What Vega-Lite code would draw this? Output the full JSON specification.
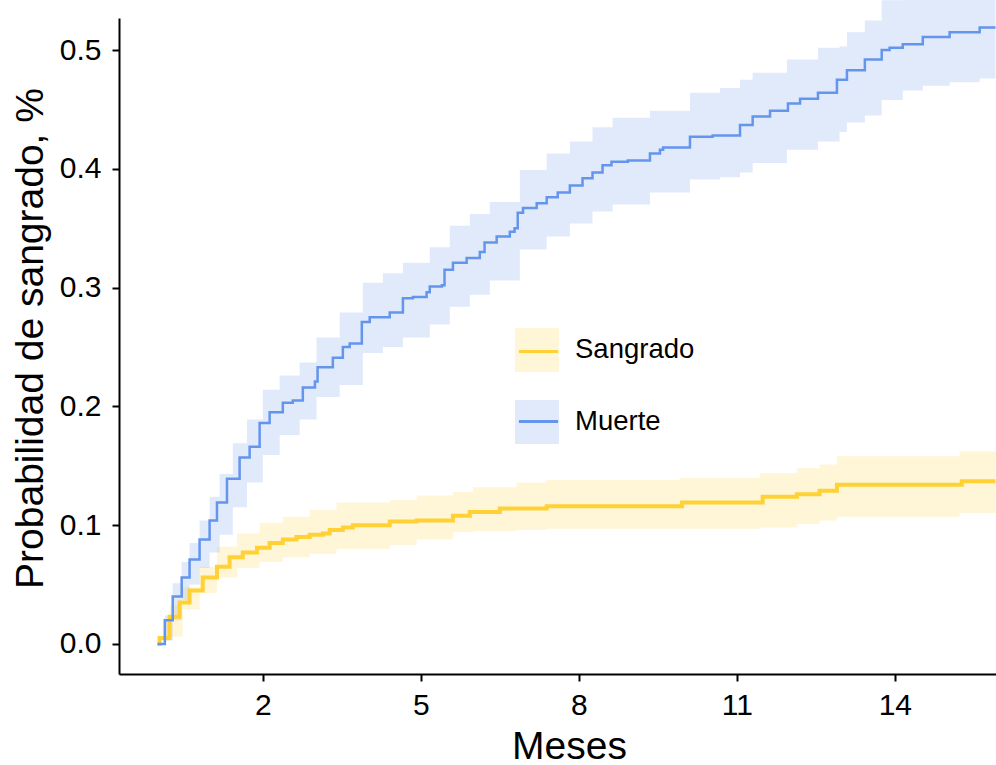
{
  "$schema": "https://vega.github.io/schema/vega-lite/v6.json",
  "width": 877,
  "height": 656,
  "autosize": {"type": "none"},
  "padding": {"left": 119, "top": 18, "right": 0, "bottom": 91},
  "background": "white",
  "config": {
    "font": "Liberation Sans",
    "view": {"stroke": null},
    "axis": {
      "domainColor": "black", "domainWidth": 2, "tickColor": "black", "tickWidth": 2, "tickSize": 7,
      "labelColor": "black", "labelFontSize": 30, "labelFont": "Liberation Sans", "labelPadding": 9,
      "titleColor": "black", "titleFontSize": 39, "titleFontWeight": "normal", "titleFont": "Liberation Sans",
      "grid": false
    },
    "axisX": {"titleX": 450, "titleY": 84, "titleBaseline": "alphabetic"},
    "axisY": {"titleX": -89, "titleY": 320, "titleBaseline": "middle", "labelPadding": 11}
  },
  "datasets": {
    "lines": [
      {"series": "Sangrado", "x": 0, "y": 0},
      {"series": "Sangrado", "x": 0.04, "y": 0.005},
      {"series": "Sangrado", "x": 0.23, "y": 0.023},
      {"series": "Sangrado", "x": 0.42, "y": 0.035},
      {"series": "Sangrado", "x": 0.61, "y": 0.045},
      {"series": "Sangrado", "x": 0.86, "y": 0.056},
      {"series": "Sangrado", "x": 1.13, "y": 0.065},
      {"series": "Sangrado", "x": 1.37, "y": 0.073},
      {"series": "Sangrado", "x": 1.62, "y": 0.077},
      {"series": "Sangrado", "x": 1.89, "y": 0.081},
      {"series": "Sangrado", "x": 2.13, "y": 0.085},
      {"series": "Sangrado", "x": 2.38, "y": 0.088},
      {"series": "Sangrado", "x": 2.64, "y": 0.09},
      {"series": "Sangrado", "x": 2.89, "y": 0.092},
      {"series": "Sangrado", "x": 3.14, "y": 0.093},
      {"series": "Sangrado", "x": 3.27, "y": 0.096},
      {"series": "Sangrado", "x": 3.52, "y": 0.098},
      {"series": "Sangrado", "x": 3.71, "y": 0.1},
      {"series": "Sangrado", "x": 4.41, "y": 0.103},
      {"series": "Sangrado", "x": 4.92, "y": 0.104},
      {"series": "Sangrado", "x": 5.61, "y": 0.108},
      {"series": "Sangrado", "x": 5.93, "y": 0.111},
      {"series": "Sangrado", "x": 6.5, "y": 0.114},
      {"series": "Sangrado", "x": 7.39, "y": 0.116},
      {"series": "Sangrado", "x": 9.96, "y": 0.119},
      {"series": "Sangrado", "x": 11.49, "y": 0.124},
      {"series": "Sangrado", "x": 12.14, "y": 0.126},
      {"series": "Sangrado", "x": 12.57, "y": 0.129},
      {"series": "Sangrado", "x": 12.9, "y": 0.134},
      {"series": "Sangrado", "x": 15.27, "y": 0.137},
      {"series": "Sangrado", "x": 15.91, "y": 0.137},
      {"series": "Muerte", "x": 0, "y": 0},
      {"series": "Muerte", "x": 0.14, "y": 0.02},
      {"series": "Muerte", "x": 0.29, "y": 0.04},
      {"series": "Muerte", "x": 0.46, "y": 0.056},
      {"series": "Muerte", "x": 0.61, "y": 0.071},
      {"series": "Muerte", "x": 0.8, "y": 0.088},
      {"series": "Muerte", "x": 0.99, "y": 0.104},
      {"series": "Muerte", "x": 1.13, "y": 0.119},
      {"series": "Muerte", "x": 1.32, "y": 0.139},
      {"series": "Muerte", "x": 1.56, "y": 0.157},
      {"series": "Muerte", "x": 1.75, "y": 0.166},
      {"series": "Muerte", "x": 1.94, "y": 0.186},
      {"series": "Muerte", "x": 2.13, "y": 0.195},
      {"series": "Muerte", "x": 2.38, "y": 0.203},
      {"series": "Muerte", "x": 2.57, "y": 0.205},
      {"series": "Muerte", "x": 2.76, "y": 0.216},
      {"series": "Muerte", "x": 2.99, "y": 0.221},
      {"series": "Muerte", "x": 3.04, "y": 0.233},
      {"series": "Muerte", "x": 3.33, "y": 0.241},
      {"series": "Muerte", "x": 3.52, "y": 0.25},
      {"series": "Muerte", "x": 3.65, "y": 0.253},
      {"series": "Muerte", "x": 3.88, "y": 0.271},
      {"series": "Muerte", "x": 4.03, "y": 0.275},
      {"series": "Muerte", "x": 4.41, "y": 0.279},
      {"series": "Muerte", "x": 4.66, "y": 0.291},
      {"series": "Muerte", "x": 4.85, "y": 0.292},
      {"series": "Muerte", "x": 5.11, "y": 0.296},
      {"series": "Muerte", "x": 5.17, "y": 0.301},
      {"series": "Muerte", "x": 5.4, "y": 0.302},
      {"series": "Muerte", "x": 5.45, "y": 0.315},
      {"series": "Muerte", "x": 5.61, "y": 0.321},
      {"series": "Muerte", "x": 5.87, "y": 0.325},
      {"series": "Muerte", "x": 6.12, "y": 0.33},
      {"series": "Muerte", "x": 6.21, "y": 0.338},
      {"series": "Muerte", "x": 6.44, "y": 0.343},
      {"series": "Muerte", "x": 6.69, "y": 0.347},
      {"series": "Muerte", "x": 6.78, "y": 0.35},
      {"series": "Muerte", "x": 6.84, "y": 0.363},
      {"series": "Muerte", "x": 6.94, "y": 0.367},
      {"series": "Muerte", "x": 7.2, "y": 0.371},
      {"series": "Muerte", "x": 7.39, "y": 0.376},
      {"series": "Muerte", "x": 7.6, "y": 0.38},
      {"series": "Muerte", "x": 7.83, "y": 0.386},
      {"series": "Muerte", "x": 8.07, "y": 0.392},
      {"series": "Muerte", "x": 8.26, "y": 0.397},
      {"series": "Muerte", "x": 8.45, "y": 0.403},
      {"series": "Muerte", "x": 8.62, "y": 0.406},
      {"series": "Muerte", "x": 8.93, "y": 0.407},
      {"series": "Muerte", "x": 9.35, "y": 0.413},
      {"series": "Muerte", "x": 9.54, "y": 0.416},
      {"series": "Muerte", "x": 9.6, "y": 0.418},
      {"series": "Muerte", "x": 10.11, "y": 0.427},
      {"series": "Muerte", "x": 10.54, "y": 0.428},
      {"series": "Muerte", "x": 11.06, "y": 0.437},
      {"series": "Muerte", "x": 11.3, "y": 0.444},
      {"series": "Muerte", "x": 11.63, "y": 0.449},
      {"series": "Muerte", "x": 11.97, "y": 0.455},
      {"series": "Muerte", "x": 12.2, "y": 0.459},
      {"series": "Muerte", "x": 12.54, "y": 0.464},
      {"series": "Muerte", "x": 12.9, "y": 0.475},
      {"series": "Muerte", "x": 13.09, "y": 0.483},
      {"series": "Muerte", "x": 13.43, "y": 0.492},
      {"series": "Muerte", "x": 13.75, "y": 0.5},
      {"series": "Muerte", "x": 13.9, "y": 0.502},
      {"series": "Muerte", "x": 14.15, "y": 0.505},
      {"series": "Muerte", "x": 14.53, "y": 0.511},
      {"series": "Muerte", "x": 15.04, "y": 0.515},
      {"series": "Muerte", "x": 15.61, "y": 0.519},
      {"series": "Muerte", "x": 15.91, "y": 0.519}
    ],
    "bands": [
      {"series": "Sangrado", "x": 0, "lo": 0, "hi": 0},
      {"series": "Sangrado", "x": 0.1, "lo": 0.002, "hi": 0.02},
      {"series": "Sangrado", "x": 0.23, "lo": 0.006, "hi": 0.033},
      {"series": "Sangrado", "x": 0.48, "lo": 0.029, "hi": 0.048},
      {"series": "Sangrado", "x": 0.8, "lo": 0.043, "hi": 0.065},
      {"series": "Sangrado", "x": 1.13, "lo": 0.056, "hi": 0.082},
      {"series": "Sangrado", "x": 1.51, "lo": 0.064, "hi": 0.093},
      {"series": "Sangrado", "x": 1.94, "lo": 0.069, "hi": 0.102},
      {"series": "Sangrado", "x": 2.38, "lo": 0.073, "hi": 0.107},
      {"series": "Sangrado", "x": 2.89, "lo": 0.076, "hi": 0.113},
      {"series": "Sangrado", "x": 3.4, "lo": 0.08, "hi": 0.119},
      {"series": "Sangrado", "x": 4.41, "lo": 0.083, "hi": 0.121},
      {"series": "Sangrado", "x": 4.92, "lo": 0.088, "hi": 0.125},
      {"series": "Sangrado", "x": 5.61, "lo": 0.094, "hi": 0.128},
      {"series": "Sangrado", "x": 5.99, "lo": 0.095, "hi": 0.132},
      {"series": "Sangrado", "x": 6.82, "lo": 0.096, "hi": 0.136},
      {"series": "Sangrado", "x": 7.39, "lo": 0.097, "hi": 0.138},
      {"series": "Sangrado", "x": 9.92, "lo": 0.097, "hi": 0.14},
      {"series": "Sangrado", "x": 11.44, "lo": 0.098, "hi": 0.144},
      {"series": "Sangrado", "x": 12.14, "lo": 0.101, "hi": 0.148},
      {"series": "Sangrado", "x": 12.57, "lo": 0.104, "hi": 0.151},
      {"series": "Sangrado", "x": 12.9, "lo": 0.107, "hi": 0.158},
      {"series": "Sangrado", "x": 15.23, "lo": 0.11, "hi": 0.162},
      {"series": "Sangrado", "x": 15.91, "lo": 0.11, "hi": 0.162},
      {"series": "Muerte", "x": 0, "lo": 0, "hi": 0},
      {"series": "Muerte", "x": 0.14, "lo": 0.003, "hi": 0.024},
      {"series": "Muerte", "x": 0.29, "lo": 0.02, "hi": 0.051},
      {"series": "Muerte", "x": 0.46, "lo": 0.037, "hi": 0.069},
      {"series": "Muerte", "x": 0.61, "lo": 0.05, "hi": 0.085},
      {"series": "Muerte", "x": 0.8, "lo": 0.064, "hi": 0.104},
      {"series": "Muerte", "x": 0.99, "lo": 0.077, "hi": 0.124},
      {"series": "Muerte", "x": 1.18, "lo": 0.092, "hi": 0.143},
      {"series": "Muerte", "x": 1.43, "lo": 0.115, "hi": 0.169},
      {"series": "Muerte", "x": 1.7, "lo": 0.136, "hi": 0.189},
      {"series": "Muerte", "x": 2.0, "lo": 0.159, "hi": 0.214},
      {"series": "Muerte", "x": 2.32, "lo": 0.176, "hi": 0.226},
      {"series": "Muerte", "x": 2.7, "lo": 0.189, "hi": 0.237},
      {"series": "Muerte", "x": 3.02, "lo": 0.208, "hi": 0.258},
      {"series": "Muerte", "x": 3.46, "lo": 0.218, "hi": 0.279},
      {"series": "Muerte", "x": 3.9, "lo": 0.245, "hi": 0.304},
      {"series": "Muerte", "x": 4.28, "lo": 0.25, "hi": 0.312},
      {"series": "Muerte", "x": 4.66, "lo": 0.258, "hi": 0.321},
      {"series": "Muerte", "x": 5.17, "lo": 0.269, "hi": 0.334},
      {"series": "Muerte", "x": 5.55, "lo": 0.284, "hi": 0.352},
      {"series": "Muerte", "x": 5.93, "lo": 0.294, "hi": 0.362},
      {"series": "Muerte", "x": 6.31, "lo": 0.306, "hi": 0.372},
      {"series": "Muerte", "x": 6.88, "lo": 0.332, "hi": 0.399},
      {"series": "Muerte", "x": 7.39, "lo": 0.343, "hi": 0.413},
      {"series": "Muerte", "x": 7.83, "lo": 0.354, "hi": 0.423},
      {"series": "Muerte", "x": 8.26, "lo": 0.364, "hi": 0.435},
      {"series": "Muerte", "x": 8.64, "lo": 0.37, "hi": 0.443},
      {"series": "Muerte", "x": 9.35, "lo": 0.38, "hi": 0.449},
      {"series": "Muerte", "x": 10.11, "lo": 0.391, "hi": 0.464},
      {"series": "Muerte", "x": 10.68, "lo": 0.393, "hi": 0.468},
      {"series": "Muerte", "x": 11.06, "lo": 0.397, "hi": 0.475},
      {"series": "Muerte", "x": 11.3, "lo": 0.405, "hi": 0.481},
      {"series": "Muerte", "x": 11.95, "lo": 0.416, "hi": 0.492},
      {"series": "Muerte", "x": 12.54, "lo": 0.423, "hi": 0.502},
      {"series": "Muerte", "x": 12.95, "lo": 0.431, "hi": 0.503},
      {"series": "Muerte", "x": 13.09, "lo": 0.439, "hi": 0.515},
      {"series": "Muerte", "x": 13.43, "lo": 0.445, "hi": 0.525},
      {"series": "Muerte", "x": 13.75, "lo": 0.458, "hi": 0.542},
      {"series": "Muerte", "x": 14.15, "lo": 0.466, "hi": 0.546},
      {"series": "Muerte", "x": 14.53, "lo": 0.47, "hi": 0.549},
      {"series": "Muerte", "x": 15.04, "lo": 0.473, "hi": 0.55},
      {"series": "Muerte", "x": 15.61, "lo": 0.476, "hi": 0.552},
      {"series": "Muerte", "x": 15.91, "lo": 0.476, "hi": 0.552}
    ]
  },
  "layer": [
    {
      "data": {"name": "bands"},
      "mark": {"type": "area", "interpolate": "step-after", "fillOpacity": 0.2},
      "encoding": {
        "x": {"field": "x", "type": "quantitative", "scale": {"domain": [-0.73, 15.92], "nice": false, "zero": false},
              "axis": {"title": "Meses", "values": [2, 5, 8, 11, 14]}},
        "y": {"field": "hi", "type": "quantitative", "scale": {"domain": [-0.0253, 0.527], "nice": false, "zero": false},
              "axis": {"title": "Probabilidad de sangrado, %", "values": [0, 0.1, 0.2, 0.3, 0.4, 0.5], "format": ".1f"}},
        "y2": {"field": "lo"},
        "fill": {"field": "series", "type": "nominal", "sort": ["Sangrado", "Muerte"],
                 "scale": {"range": ["#FFD135", "#6495ED"]},
                 "legend": {"orient": "none", "legendX": 396, "legendY": 310, "title": null,
                            "symbolType": "square", "symbolSize": 1936, "symbolOpacity": 0.2, "symbolStrokeWidth": 0,
                            "labelFontSize": 27.5, "labelColor": "black", "labelOffset": 16, "rowPadding": 28,
                            "padding": 0, "zindex": 0}}
      }
    },
    {
      "data": {"name": "lines"},
      "transform": [{"filter": "datum.series === 'Sangrado'"}],
      "mark": {"type": "line", "interpolate": "step-after", "strokeWidth": 4},
      "encoding": {
        "x": {"field": "x", "type": "quantitative", "axis": {"title": "Meses", "values": [2, 5, 8, 11, 14]}},
        "y": {"field": "y", "type": "quantitative", "axis": {"title": "Probabilidad de sangrado, %", "values": [0, 0.1, 0.2, 0.3, 0.4, 0.5], "format": ".1f"}},
        "color": {"field": "series", "type": "nominal",
                  "scale": {"domain": ["Sangrado", "Muerte"], "range": ["#FFD135", "#6495ED"]},
                  "legend": {"orient": "none", "legendX": 396, "legendY": 310, "title": null,
                             "symbolType": "M-1,-1M1,1M-0.89,0H0.89", "symbolSize": 1936, "symbolStrokeWidth": 3,
                             "labelExpr": "''", "labelFontSize": 27.5, "labelOffset": 16, "rowPadding": 13,
                             "padding": 0, "zindex": 1}}
      }
    },
    {
      "data": {"name": "lines"},
      "transform": [{"filter": "datum.series === 'Muerte'"}],
      "mark": {"type": "line", "interpolate": "step-after", "strokeWidth": 2.5},
      "encoding": {
        "x": {"field": "x", "type": "quantitative"},
        "y": {"field": "y", "type": "quantitative"},
        "color": {"field": "series", "type": "nominal"}
      }
    }
  ]
}
